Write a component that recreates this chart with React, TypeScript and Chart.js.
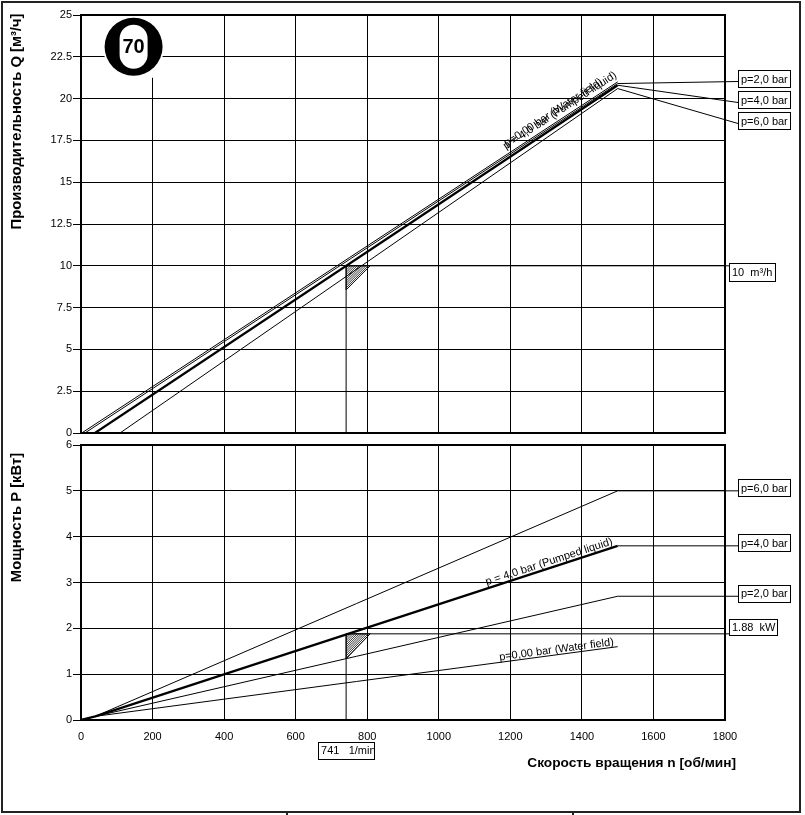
import React, { useEffect, useRef } from "react";
import { Chart, registerables } from "chart.js";

Chart.register(...registerables);

// ---------- data ----------
const speedTicks = [0, 200, 400, 600, 800, 1000, 1200, 1400, 1600, 1800];
const flowTicks = [0, 2.5, 5, 7.5, 10, 12.5, 15, 17.5, 20, 22.5, 25];
const powerTicks = [0, 1, 2, 3, 4, 5, 6];

// capacity Q [m3/h] vs speed n [rpm]: [n, Q]
const flowWaterField = [[2, 0], [1500, 21.0]];
const flowP2 = [[11, 0], [1500, 20.9]];
const flowP4 = [[39, 0], [1500, 20.8]];
const flowP6 = [[109, 0], [1500, 20.6]];

// power P [kW] vs speed n [rpm]: [n, P]
const powerWaterField = [[0, 0], [40, 0.08], [1500, 1.6]];
const powerP2 = [[0, 0], [40, 0.08], [1500, 2.7]];
const powerP4 = [[0, 0], [40, 0.08], [1500, 3.8]];
const powerP6 = [[0, 0], [40, 0.08], [1500, 5.0]];

const pressureLabels = ["p=2,0 bar", "p=4,0 bar", "p=6,0 bar"];
const waterFieldLabel = "p=0,00 bar (Water field)";
const pumpedLiquidLabel = "p = 4,0 bar (Pumped liquid)";

const operatingSpeed = 741;
const operatingFlow = 10;
const operatingPower = 1.88;
const flowUnitLabel = "10  m³/h";
const powerUnitLabel = "1.88  kW";
const speedUnitLabel = "741   1/min";
const pumpSize = "70";
const logoPosition = [147, 23.1];

const flowTitle = "Производительность Q [м³/ч]";
const powerTitle = "Мощность P [кВт]";
const speedTitle = "Скорость вращения n [об/мин]";

// ---------- helpers ----------
const FONT = "'Liberation Sans', Arial, Helvetica, sans-serif";
const toXY = (arr: number[][]) => arr.map(([x, y]) => ({ x, y }));

function seg(ctx: CanvasRenderingContext2D, x1: number, y1: number, x2: number, y2: number, w = 1) {
  ctx.save();
  ctx.strokeStyle = "#000";
  ctx.lineWidth = w;
  ctx.beginPath();
  ctx.moveTo(x1, y1);
  ctx.lineTo(x2, y2);
  ctx.stroke();
  ctx.restore();
}

function drawBox(ctx: CanvasRenderingContext2D, x: number, y: number, w: number, h: number, text: string) {
  ctx.save();
  ctx.fillStyle = "#fff";
  ctx.fillRect(x, y, w, h);
  ctx.strokeStyle = "#000";
  ctx.lineWidth = 1;
  ctx.strokeRect(Math.round(x) + 0.5, Math.round(y) + 0.5, w, h);
  ctx.fillStyle = "#000";
  ctx.font = `11px ${FONT}`;
  ctx.textBaseline = "middle";
  ctx.textAlign = "left";
  ctx.fillText(text, x + 3, y + h / 2 + 1);
  ctx.restore();
}

function hatch(ctx: CanvasRenderingContext2D, x: number, y: number, w: number, h: number) {
  ctx.save();
  ctx.beginPath();
  ctx.moveTo(x, y);
  ctx.lineTo(x + w, y);
  ctx.lineTo(x, y + h);
  ctx.closePath();
  ctx.strokeStyle = "#000";
  ctx.lineWidth = 1;
  ctx.stroke();
  ctx.clip();
  ctx.lineWidth = 0.8;
  for (let k = -h; k < w + h; k += 2.2) {
    ctx.beginPath();
    ctx.moveTo(x + k, y + h);
    ctx.lineTo(x + k + h, y);
    ctx.stroke();
  }
  ctx.restore();
}

function slopedText(chart: any, pts: number[][], n: number, text: string, offset: number) {
  const { ctx } = chart;
  const xs = chart.scales.x;
  const ys = chart.scales.y;
  let i = 0;
  while (i < pts.length - 2 && n > pts[i + 1][0]) i++;
  const [x0, y0] = pts[i];
  const [x1, y1] = pts[i + 1];
  const px0 = xs.getPixelForValue(x0), py0 = ys.getPixelForValue(y0);
  const px1 = xs.getPixelForValue(x1), py1 = ys.getPixelForValue(y1);
  const angle = Math.atan2(py1 - py0, px1 - px0);
  const yv = y0 + ((n - x0) / (x1 - x0)) * (y1 - y0);
  ctx.save();
  ctx.translate(xs.getPixelForValue(n), ys.getPixelForValue(yv));
  ctx.rotate(angle);
  ctx.font = `11px ${FONT}`;
  ctx.fillStyle = "#000";
  ctx.textAlign = "left";
  ctx.textBaseline = "alphabetic";
  ctx.fillText(text, 0, -offset);
  ctx.restore();
}

function verticalTitle(ctx: CanvasRenderingContext2D, text: string, x: number, y: number) {
  ctx.save();
  ctx.translate(x, y);
  ctx.rotate(-Math.PI / 2);
  ctx.font = `bold 14.8px ${FONT}`;
  ctx.fillStyle = "#000";
  ctx.textAlign = "center";
  ctx.textBaseline = "middle";
  ctx.fillText(text, 0, 0);
  ctx.restore();
}

function frame(chart: any) {
  const { ctx, chartArea: a } = chart;
  ctx.save();
  ctx.strokeStyle = "#000";
  ctx.lineWidth = 2;
  ctx.strokeRect(a.left, a.top, a.right - a.left, a.bottom - a.top);
  ctx.restore();
}

const lineDs = (arr: number[][], w = 1) => ({
  data: toXY(arr),
  borderColor: "#000",
  borderWidth: w,
  pointRadius: 0,
  tension: 0,
  fill: false,
});

const tickFont = { family: FONT, size: 11 };

// ---------- plugins ----------
const topPlugin = {
  id: "topDecor",
  afterDraw(chart: any) {
    const { ctx, chartArea: a } = chart;
    const xs = chart.scales.x;
    const ys = chart.scales.y;

    // logo
    const cx = xs.getPixelForValue(logoPosition[0]);
    const cy = ys.getPixelForValue(logoPosition[1]);
    ctx.save();
    ctx.fillStyle = "#fff";
    ctx.fillRect(cx - 29, a.top + 1, 58, cy + 31 - a.top - 1);
    ctx.fillStyle = "#000";
    ctx.beginPath();
    ctx.arc(cx, cy, 29, 0, Math.PI * 2);
    ctx.fill();
    ctx.fillStyle = "#fff";
    ctx.beginPath();
    (ctx as any).roundRect(cx - 14, cy - 22, 28, 44, 14);
    ctx.fill();
    ctx.fillStyle = "#000";
    ctx.font = `bold 20px ${FONT}`;
    ctx.textAlign = "center";
    ctx.textBaseline = "middle";
    ctx.fillText(pumpSize, cx, cy + 1);
    ctx.restore();

    frame(chart);

    // operating point
    const ox = xs.getPixelForValue(operatingSpeed);
    const oy = ys.getPixelForValue(operatingFlow);
    seg(ctx, ox, oy, ox, a.bottom);
    seg(ctx, ox, oy, a.right + 4, oy);
    hatch(ctx, ox, oy, 24, 24);
    drawBox(ctx, a.right + 4, oy - 3, 46, 18, flowUnitLabel);

    // leaders
    [flowP2, flowP4, flowP6].forEach((s, i) => {
      const last = s[s.length - 1];
      const lx = xs.getPixelForValue(last[0]);
      const ly = ys.getPixelForValue(last[1]);
      const bt = a.top + 55 + i * 21;
      seg(ctx, lx, ly, a.right + 13, bt + 11.5);
      drawBox(ctx, a.right + 13, bt, 52, 17, pressureLabels[i]);
    });

    slopedText(chart, flowWaterField, 1200, waterFieldLabel, 6.5);
    slopedText(chart, flowWaterField, 1195, pumpedLiquidLabel, 4.5);

    verticalTitle(ctx, flowTitle, 17, a.top + 106.5);
  },
};

const bottomPlugin = {
  id: "bottomDecor",
  afterDraw(chart: any) {
    const { ctx, chartArea: a } = chart;
    const xs = chart.scales.x;
    const ys = chart.scales.y;

    frame(chart);

    // leaders at the right
    [powerP2, powerP4, powerP6].forEach((s, i) => {
      const last = s[s.length - 1];
      const lx = xs.getPixelForValue(last[0]);
      const ly = ys.getPixelForValue(last[1]);
      seg(ctx, lx, ly, a.right + 13, ly);
      drawBox(ctx, a.right + 13, ly - 11.5, 52, 17, pressureLabels[i]);
    });

    // operating point
    const ox = xs.getPixelForValue(operatingSpeed);
    const oy = ys.getPixelForValue(operatingPower);
    seg(ctx, ox, oy, ox, a.bottom);
    seg(ctx, ox, oy, a.right + 4, oy);
    hatch(ctx, ox, oy, 24, 25);
    drawBox(ctx, a.right + 4, oy - 15, 48, 16, powerUnitLabel);
    drawBox(ctx, ox - 28, a.bottom + 21.5, 56, 17, speedUnitLabel);

    slopedText(chart, powerP4, 1137, pumpedLiquidLabel, 3);
    slopedText(chart, powerWaterField, 1171, waterFieldLabel, 2);

    verticalTitle(ctx, powerTitle, 17, a.top + 72.5);

    ctx.save();
    ctx.font = `bold 13.7px ${FONT}`;
    ctx.fillStyle = "#000";
    ctx.textAlign = "right";
    ctx.textBaseline = "middle";
    ctx.fillText(speedTitle, a.right + 11, a.bottom + 43.5);
    ctx.restore();
  },
};

function commonX(showTicks: boolean) {
  return {
    type: "linear" as const,
    min: 0,
    max: 1800,
    afterBuildTicks: (s: any) => {
      s.ticks = speedTicks.map((v) => ({ value: v }));
    },
    ticks: {
      display: showTicks,
      color: "#000",
      font: tickFont,
      padding: 10,
      maxRotation: 0,
      callback: (v: any) => String(v),
    },
    grid: { color: "#000", lineWidth: 1, drawTicks: false },
    border: { display: false },
    afterFit: (s: any) => {
      s.height = showTicks ? 30 : 0;
    },
  };
}

function yAxis(min: number, max: number, ticks: number[]) {
  return {
    type: "linear" as const,
    min,
    max,
    afterBuildTicks: (s: any) => {
      s.ticks = ticks.map((v) => ({ value: v }));
    },
    ticks: {
      color: "#000",
      font: tickFont,
      padding: 1,
      callback: (v: any) => String(v),
    },
    grid: { color: "#000", lineWidth: 1, tickLength: 8, tickColor: "#000" },
    border: { display: false },
    afterFit: (s: any) => {
      s.width = 81;
    },
  };
}

export default function App() {
  const topRef = useRef<HTMLCanvasElement>(null);
  const botRef = useRef<HTMLCanvasElement>(null);

  useEffect(() => {
    const top = new Chart(topRef.current as HTMLCanvasElement, {
      type: "line",
      data: {
        datasets: [
          lineDs(flowWaterField),
          lineDs(flowP2),
          lineDs(flowP4, 2.2),
          lineDs(flowP6),
        ],
      },
      options: {
        animation: false,
        responsive: false,
        events: [],
        layout: { padding: { left: 0, top: 15, right: 80, bottom: 9 } },
        plugins: { legend: { display: false }, tooltip: { enabled: false } },
        scales: { x: commonX(false) as any, y: yAxis(0, 25, flowTicks) as any },
      },
      plugins: [topPlugin],
    });
    const bot = new Chart(botRef.current as HTMLCanvasElement, {
      type: "line",
      data: {
        datasets: [
          lineDs(powerWaterField),
          lineDs(powerP2),
          lineDs(powerP4, 2.2),
          lineDs(powerP6),
        ],
      },
      options: {
        animation: false,
        responsive: false,
        events: [],
        layout: { padding: { left: 0, top: 8, right: 80, bottom: 65 } },
        plugins: { legend: { display: false }, tooltip: { enabled: false } },
        scales: { x: commonX(true) as any, y: yAxis(0, 6, powerTicks) as any },
      },
      plugins: [bottomPlugin],
    });
    return () => {
      top.destroy();
      bot.destroy();
    };
  }, []);

  const bar = (s: React.CSSProperties): React.CSSProperties => ({
    position: "absolute",
    background: "#222",
    ...s,
  });

  return (
    <div style={{ position: "absolute", left: 0, top: 0, width: 805, height: 815, background: "#fff", overflow: "hidden" }}>
      <canvas ref={topRef} width={805} height={442} style={{ position: "absolute", left: 0, top: 0 }} />
      <canvas ref={botRef} width={805} height={378} style={{ position: "absolute", left: 0, top: 437 }} />
      <div style={bar({ left: 1, top: 1, width: 800, height: 2 })} />
      <div style={bar({ left: 1, top: 1, width: 2, height: 812 })} />
      <div style={bar({ left: 799, top: 1, width: 2, height: 812 })} />
      <div style={bar({ left: 1, top: 811, width: 800, height: 2 })} />
      <div style={bar({ left: 286, top: 811, width: 2, height: 4 })} />
      <div style={bar({ left: 572, top: 811, width: 2, height: 4 })} />
    </div>
  );
}
